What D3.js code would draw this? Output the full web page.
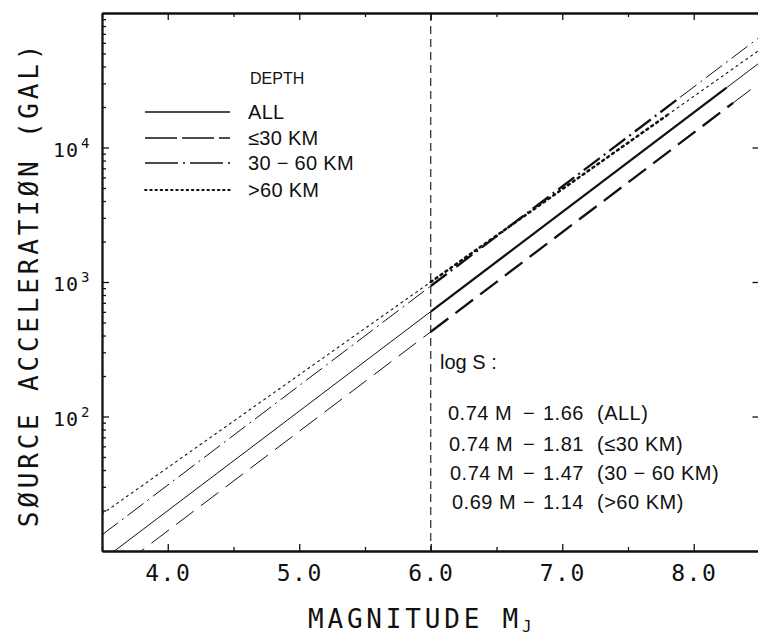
<!DOCTYPE html>
<html>
<head>
<meta charset="utf-8">
<script src="https://cdn.jsdelivr.net/npm/d3@7"></script>
<style>
  body { margin: 0; background: #fff; }
  svg { display: block; }
</style>
</head>
<body>
<svg id="chart" width="758" height="640"></svg>
<script>
// Regression lines of source acceleration against magnitude, by focal depth
const seriesNames = ["ALL", "≤30 KM", "30 − 60 KM", ">60 KM"];
const slopes = [0.74, 0.74, 0.74, 0.69];
const intercepts = [1.66, 1.81, 1.47, 1.14];
const fitFrom = [6.0, 6.0, 6.0, 6.0];
const fitTo = [8.25, 8.3, 7.9, 7.8];
const cutoffMag = 6.0;

const magDomain = [3.5, 8.5];
const accDomain = [10, 1e5];
const xTickValues = [4, 5, 6, 7, 8];
const xTickLabels = ["4.0", "5.0", "6.0", "7.0", "8.0"];
const xMinorTicks = [3.5, 4.5, 5.5, 6.5, 7.5, 8.5];
const yTickValues = [1e2, 1e3, 1e4];
const yTickExponents = ["2", "3", "4"];

const eqCoef = ["0.74 M", "0.74 M", "0.74 M", "0.69 M"];
const eqConst = ["1.66", "1.81", "1.47", "1.14"];
const eqTags = ["(ALL)", "(≤30 KM)", "(30 − 60 KM)", "(>60 KM)"];

// line styles per series: plot dash, legend dash
const plotDash = [null, "22,9", "20,5,2,5", "2,4"];
const legendDash = [null, "32,5", "33,5,2,5", "1.6,3.6"];

const svg = d3.select("#chart");
const plotLeft = 102, plotRight = 759.5, plotTop = 13, plotBottom = 551;

const x = d3.scaleLinear().domain(magDomain).range([plotLeft, plotRight]);
const y = d3.scaleLog().domain(accDomain).range([plotBottom, plotTop]);

const plotFont = "'DejaVu Sans Mono', monospace";
const labelFont = "'Liberation Sans', Arial, sans-serif";

// clip
svg.append("defs").append("clipPath").attr("id", "plotClip")
  .append("rect").attr("x", plotLeft).attr("y", plotTop)
  .attr("width", plotRight - plotLeft).attr("height", plotBottom - plotTop);

// ---- axes ----
function styleAxis(g) {
  g.selectAll("path.domain").attr("stroke", "#111").attr("stroke-width", 1.8);
  g.selectAll(".tick line").attr("stroke", "#111").attr("stroke-width", 1.3);
}

const minorY = [];
for (let e = 1; e < 5; e++) for (let k = 2; k <= 9; k++) minorY.push(k * Math.pow(10, e));

// bottom
svg.append("g").attr("transform", `translate(0,${plotBottom})`)
  .call(d3.axisBottom(x).tickValues(xTickValues).tickSize(-7).tickSizeOuter(0)
    .tickPadding(14).tickFormat((d, i) => xTickLabels[i]))
  .call(styleAxis)
  .call(g => g.selectAll("text")
    .attr("font-family", plotFont).attr("font-size", 23)
    .attr("letter-spacing", 1.5).attr("fill", "#111"));
svg.append("g").attr("transform", `translate(0,${plotBottom})`)
  .call(d3.axisBottom(x).tickValues(xMinorTicks).tickSize(-4).tickSizeOuter(0).tickFormat(""))
  .call(styleAxis);

// top
svg.append("g").attr("transform", `translate(0,${plotTop})`)
  .call(d3.axisTop(x).tickValues(xTickValues).tickSize(-7).tickSizeOuter(0).tickFormat(""))
  .call(styleAxis);
svg.append("g").attr("transform", `translate(0,${plotTop})`)
  .call(d3.axisTop(x).tickValues(xMinorTicks).tickSize(-4).tickSizeOuter(0).tickFormat(""))
  .call(styleAxis);

// left
svg.append("g").attr("transform", `translate(${plotLeft},0)`)
  .call(d3.axisLeft(y).tickValues(yTickValues).tickSize(-7).tickSizeOuter(0).tickFormat(""))
  .call(styleAxis);
svg.append("g").attr("transform", `translate(${plotLeft},0)`)
  .call(d3.axisLeft(y).tickValues(minorY).tickSize(-4).tickSizeOuter(0).tickFormat(""))
  .call(styleAxis);

// right (frame edge)
svg.append("g").attr("transform", `translate(${plotRight},0)`)
  .call(d3.axisRight(y).tickValues(yTickValues).tickSize(-7).tickSizeOuter(0).tickFormat(""))
  .call(styleAxis);

// y tick labels as 10 with superscript exponent
yTickValues.forEach((v, i) => {
  const t = svg.append("text")
    .attr("x", 53).attr("y", y(v) + 9)
    .attr("font-family", plotFont).attr("font-size", 20)
    .attr("letter-spacing", 1).attr("fill", "#111");
  t.append("tspan").text("10");
  t.append("tspan").attr("dx", 2).attr("dy", -9).attr("font-size", 14).text(yTickExponents[i]);
});

// axis titles
svg.append("text")
  .attr("transform", `translate(38,${(plotTop + plotBottom) / 2 + 2}) rotate(-90)`)
  .attr("text-anchor", "middle")
  .attr("font-family", plotFont).attr("font-size", 26)
  .attr("letter-spacing", 3.8).attr("fill", "#111")
  .text("SØURCE ACCELERATIØN (GAL)");

const xt = svg.append("text")
  .attr("x", 308).attr("y", 628)
  .attr("font-family", plotFont).attr("font-size", 26)
  .attr("letter-spacing", 3.8).attr("fill", "#111");
xt.append("tspan").text("MAGNITUDE M");
xt.append("tspan").attr("dy", 4).attr("font-size", 16).attr("letter-spacing", 0).text("J");

// ---- magnitude 6 divider ----
svg.append("line")
  .attr("x1", x(cutoffMag)).attr("x2", x(cutoffMag))
  .attr("y1", plotTop).attr("y2", plotBottom)
  .attr("stroke", "#111").attr("stroke-width", 1.1)
  .attr("stroke-dasharray", "8,5");

// ---- regression lines ----
const line = d3.line().x(d => x(d[0])).y(d => y(d[1]));
const lines = svg.append("g").attr("clip-path", "url(#plotClip)");
seriesNames.forEach((name, i) => {
  const acc = m => Math.pow(10, slopes[i] * m - intercepts[i]);
  const parts = [
    [magDomain[0], fitFrom[i], 1.0],
    [fitFrom[i], fitTo[i], 2.3],
    [fitTo[i], magDomain[1], 1.0]
  ];
  parts.forEach(([m0, m1, w]) => {
    lines.append("path")
      .datum([[m0, acc(m0)], [m1, acc(m1)]])
      .attr("d", line)
      .attr("fill", "none")
      .attr("stroke", "#111")
      .attr("stroke-width", i === 3 ? w * 1.1 : w)
      .attr("stroke-linecap", i === 3 ? "round" : "butt")
      .attr("stroke-dasharray", plotDash[i]);
  });
});

// ---- legend ----
svg.append("text").attr("x", 250).attr("y", 84)
  .attr("font-family", labelFont).attr("font-size", 16).attr("fill", "#111")
  .text("DEPTH");
const legendY = [112, 138, 163, 190];
seriesNames.forEach((name, i) => {
  svg.append("line")
    .attr("x1", 145).attr("x2", 230)
    .attr("y1", legendY[i]).attr("y2", legendY[i])
    .attr("stroke", "#111").attr("stroke-width", i === 3 ? 1.8 : 1.7)
    .attr("stroke-linecap", i === 3 ? "round" : "butt")
    .attr("stroke-dasharray", legendDash[i]);
  svg.append("text")
    .attr("x", 248).attr("y", legendY[i]).attr("dy", "0.36em")
    .attr("font-family", labelFont).attr("font-size", 20)
    .attr("letter-spacing", 0.3).attr("fill", "#111")
    .text(name);
});

// ---- equations ----
svg.append("text").attr("x", 440).attr("y", 369)
  .attr("font-family", labelFont).attr("font-size", 20).attr("fill", "#111")
  .text("log S :");
const eqY = [413, 444, 473, 502];
const coefX = [448, 449, 450, 452];
eqCoef.forEach((c, i) => {
  const g = svg.append("g")
    .attr("font-family", labelFont).attr("font-size", 20)
    .attr("letter-spacing", 0.5).attr("fill", "#111");
  g.append("text").attr("x", coefX[i]).attr("y", eqY[i]).attr("dy", "0.36em").text(c);
  g.append("text").attr("x", 523).attr("y", eqY[i]).attr("dy", "0.36em").text("−");
  g.append("text").attr("x", 543).attr("y", eqY[i]).attr("dy", "0.36em").text(eqConst[i]);
  g.append("text").attr("x", 597).attr("y", eqY[i]).attr("dy", "0.36em").text(eqTags[i]);
});
</script>
</body>
</html>
